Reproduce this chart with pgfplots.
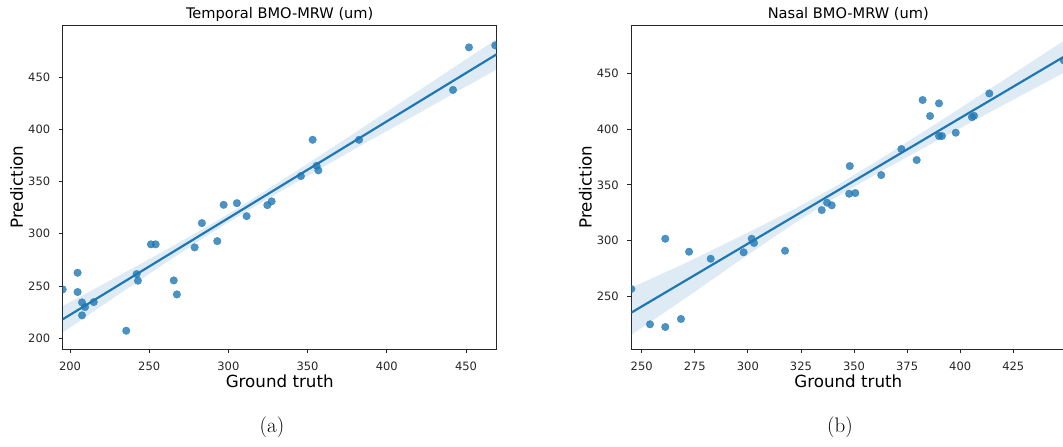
\documentclass[border=0pt]{standalone}
\usepackage{fontspec}
\usepackage{pgfplots}
\pgfplotsset{compat=1.18}
\usepgfplotslibrary{fillbetween}
\newfontfamily\dejavu{DejaVu Sans}
\definecolor{c1}{HTML}{1F77B4}
\definecolor{spine}{HTML}{262626}
\pgfplotsset{
  regstyle/.style={
    scale only axis, width=434pt, height=324pt, anchor=south west,
    axis line style={spine, line width=0.9pt},
    tick align=outside, xtick pos=bottom, ytick pos=left,
    major tick length=4pt,
    every tick/.style={spine, line width=0.9pt},
    clip marker paths=true,
    /pgf/number format/assume math mode=true,
    tick label style={font=\dejavu\fontsize{11.5}{13}\selectfont, text=spine},
    xticklabel style={anchor=center, yshift=-13.7pt},
    yticklabel style={xshift=-5pt},
    label style={font=\dejavu\fontsize{16.7}{19}\selectfont, text=black},
    xlabel style={at={(axis description cs:0.5,-0.0988)}, anchor=center},
    ylabel style={at={(axis description cs:-0.106,0.5)}, anchor=center},
    every axis title shift=0pt,
    title style={font=\dejavu\fontsize{14.6}{17}\selectfont, at={(axis description cs:0.5,1.034)}, anchor=center},
    xlabel={Ground truth}, ylabel={Prediction},
  },
  dots/.style={only marks, mark=*, mark size=3.8pt, color=c1, mark options={draw=c1, fill=c1, opacity=0.8, line width=0.3pt}},
  reg/.style={c1, line width=2.2pt, no marks},
}
\begin{document}
\begin{tikzpicture}
% ---------------- (a) Temporal ----------------
\begin{axis}[regstyle, at={(62.7pt,98pt)},
  xmin=195.4, xmax=469.4, ymin=189.8, ymax=499.7,
  xtick={200,250,300,350,400,450}, ytick={200,250,300,350,400,450},
  title={Temporal BMO-MRW (um)}]
\addplot[name path=upa, draw=none, forget plot] coordinates {
(195.4,230.9) (220,251.0) (250,275.7) (280,301.1) (300,319.0) (320,337.8)
(350,367.0) (380,396.7) (410,426.7) (440,456.8) (469.4,486.2)};
\addplot[name path=loa, draw=none, forget plot] coordinates {
(195.4,205.5) (220,231.0) (250,261.7) (280,291.9) (300,311.0) (320,329.2)
(350,355.4) (380,381.3) (410,406.7) (440,432.2) (469.4,457.2)};
\addplot[fill=c1, fill opacity=0.15, draw=none] fill between[of=upa and loa];
\addplot[dots] coordinates {
(195.4,246.8) (204.8,262.7) (204.8,244.3) (207.6,234.4) (209.5,229.9)
(207.6,222.0) (215.0,234.7) (235.5,207.3) (242.1,261.5) (242.9,255.1)
(251.1,289.9) (254.1,289.9) (265.5,255.4) (267.5,242.0) (278.7,287.0)
(283.3,310.2) (293.0,293.0) (297.0,327.7) (305.4,329.3) (311.5,316.9)
(324.6,327.4) (327.3,331.0) (345.8,355.2) (353.2,389.9) (355.7,365.0)
(356.8,360.6) (382.5,389.9) (441.8,437.6) (451.9,478.3) (468.5,480.2)};
\addplot[reg] coordinates {(195.4,218.2) (469.4,471.7)};
\end{axis}
% ---------------- (b) Nasal ----------------
\begin{axis}[regstyle, at={(631.3pt,98pt)},
  xmin=245.1, xmax=449.5, ymin=202.3, ymax=493.8,
  xtick={250,275,300,325,350,375,400,425}, ytick={250,300,350,400,450},
  title={Nasal BMO-MRW (um)}]
\addplot[name path=upb, draw=none, forget plot] coordinates {
(245.1,257.5) (270,279.0) (295,302.3) (320,326.2) (340,347.2) (365,376.4)
(390,406.7) (420,443.7) (449.5,480.4)};
\addplot[name path=lob, draw=none, forget plot] coordinates {
(245.1,215.0) (270,247.2) (295,280.5) (320,313.0) (340,337.2) (365,364.6)
(390,390.7) (420,421.5) (449.5,451.6)};
\addplot[fill=c1, fill opacity=0.15, draw=none] fill between[of=upb and lob];
\addplot[dots] coordinates {
(245.1,256.3) (253.9,224.5) (261.1,222.1) (261.1,301.5) (268.5,229.3)
(272.3,289.8) (282.5,283.5) (298.0,289.3) (301.8,301.5) (302.9,297.7)
(317.5,290.7) (334.8,327.3) (337.3,333.9) (339.5,331.6) (347.7,342.0)
(350.6,342.6) (348.0,366.9) (362.8,358.8) (372.3,382.2) (379.5,372.3)
(382.3,426.3) (385.8,411.9) (390.0,423.3) (390.0,393.9) (391.4,393.9)
(397.9,396.9) (405.5,410.9) (406.5,412.1) (413.7,432.2) (448.8,462.0)};
\addplot[reg] coordinates {(245.1,235.0) (449.5,466.0)};
\end{axis}
\node[font=\fontsize{21}{25}\selectfont] at (272pt,19.5pt) {(a)};
\node[font=\fontsize{21}{25}\selectfont] at (840pt,19.5pt) {(b)};
\pgfresetboundingbox
\useasboundingbox (0,0) rectangle (1063pt,447pt);
\end{tikzpicture}
\end{document}
